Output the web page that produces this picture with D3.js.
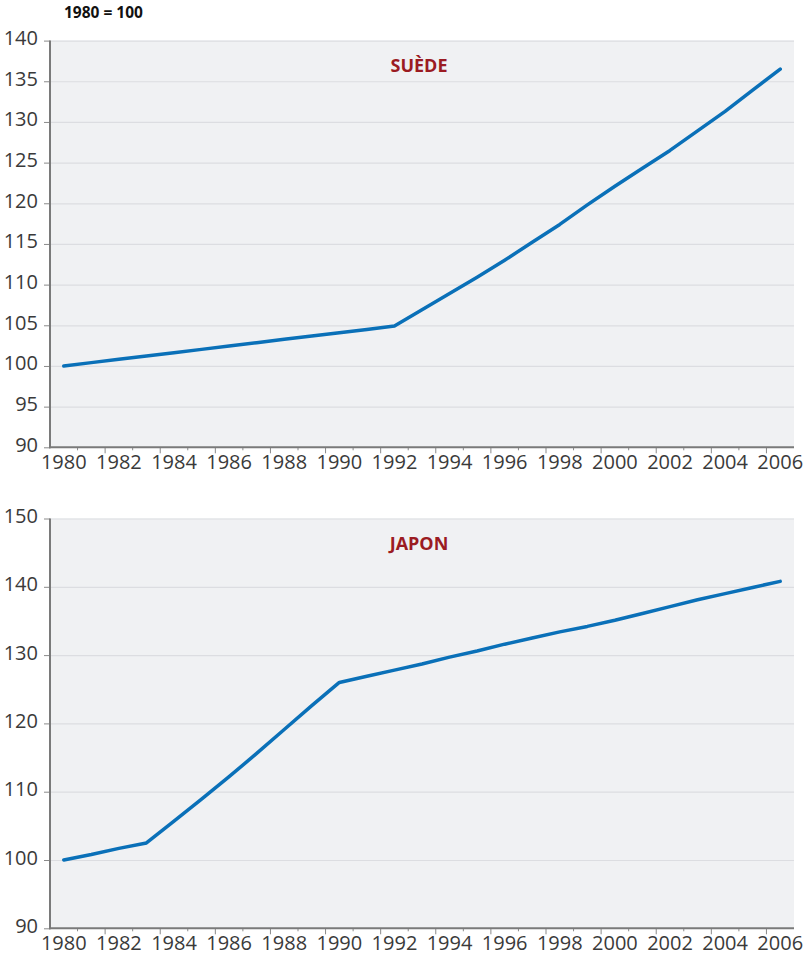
<!DOCTYPE html>
<html>
<head>
<meta charset="utf-8">
<script src="https://cdn.jsdelivr.net/npm/d3@7"></script>
<style>
  body { margin: 0; background: #fff; }
  .tick text { font-family: "Open Sans", sans-serif; font-size: 20px; fill: #3a3a3a; }
  .title { font-family: "Open Sans", sans-serif; font-weight: 700; font-size: 18px; fill: #9b1b22; }
  .unit { font-family: "Open Sans", sans-serif; font-weight: 700; font-size: 15.5px; fill: #111; }
</style>
</head>
<body>
<svg id="chart" width="803" height="958"></svg>
<script>
// données (indice 1980 = 100)
const years = d3.range(1980, 2007);
const yearLabels = years.filter(d => d % 2 === 0);

const sweden = [100, 100.41, 100.82, 101.23, 101.63, 102.04, 102.45, 102.86, 103.27, 103.68, 104.08, 104.49, 104.9,
  106.9, 108.9, 110.9, 113.0, 115.2, 117.4, 119.8, 122.1, 124.3, 126.5, 128.9, 131.3, 133.9, 136.5];
const japan = [100, 100.8, 101.7, 102.5, 105.7, 108.9, 112.2, 115.6, 119.1, 122.6, 126.0,
  126.9, 127.8, 128.7, 129.7, 130.6, 131.6, 132.5, 133.4, 134.2, 135.1, 136.1, 137.1, 138.1, 139.0, 139.9, 140.8];

const swedenTicks = [90, 95, 100, 105, 110, 115, 120, 125, 130, 135, 140];
const japanTicks = [90, 100, 110, 120, 130, 140, 150];

const svg = d3.select('#chart');

const LEFT = 50;
const RIGHT = 794;

svg.append('text')
  .attr('class', 'unit')
  .attr('x', 64)
  .attr('y', 18)
  .text('1980 = 100');

function drawPanel(top, bottom, values, ticks, title) {
  const g = svg.append('g');

  const x = d3.scaleBand().domain(years).range([LEFT, RIGHT]).padding(0);
  const y = d3.scaleLinear().domain([ticks[0], ticks[ticks.length - 1]]).range([bottom, top]);

  // fond
  g.append('rect')
    .attr('x', LEFT)
    .attr('y', top)
    .attr('width', RIGHT - LEFT)
    .attr('height', bottom - top)
    .attr('fill', '#f0f1f3');

  // grille
  g.append('g')
    .attr('transform', `translate(${LEFT},0)`)
    .call(d3.axisLeft(y).tickValues(ticks.slice(1)).tickSize(-(RIGHT - LEFT)).tickFormat(''))
    .call(a => a.select('.domain').remove())
    .call(a => a.selectAll('line').attr('stroke', '#dcdde1').attr('stroke-width', 1.2));

  // axe y
  g.append('g')
    .attr('transform', `translate(${LEFT},0)`)
    .call(d3.axisLeft(y).tickValues(ticks).tickSize(6).tickPadding(6))
    .call(a => a.select('.domain').remove())
    .call(a => a.selectAll('line').attr('stroke', '#8a8a8a'))
    .call(a => a.selectAll('text').attr('dy', '0.2em'));

  // graduations x : entre les catégories
  g.selectAll('.xt')
    .data(years.slice(1))
    .join('line')
    .attr('x1', d => x(d))
    .attr('x2', d => x(d))
    .attr('y1', bottom)
    .attr('y2', d => bottom + (d % 2 === 0 ? 6 : 3))
    .attr('stroke', '#8a8a8a')
    .attr('stroke-width', 1);

  // libellés x
  g.append('g')
    .attr('transform', `translate(0,${bottom})`)
    .call(d3.axisBottom(x).tickValues(yearLabels).tickSize(0).tickPadding(8))
    .call(a => a.select('.domain').remove());

  // axes
  g.append('line')
    .attr('x1', LEFT).attr('x2', LEFT)
    .attr('y1', top).attr('y2', bottom + 1)
    .attr('stroke', '#7a7a7a').attr('stroke-width', 2);
  g.append('line')
    .attr('x1', LEFT - 1).attr('x2', RIGHT)
    .attr('y1', bottom).attr('y2', bottom)
    .attr('stroke', '#7a7a7a').attr('stroke-width', 2);

  // courbe
  const line = d3.line()
    .x((d, i) => x(years[i]) + x.bandwidth() / 2)
    .y(d => y(d));

  g.append('path')
    .datum(values)
    .attr('d', line)
    .attr('fill', 'none')
    .attr('stroke', '#0a70b8')
    .attr('stroke-width', 3.5)
    .attr('stroke-linecap', 'round')
    .attr('stroke-linejoin', 'round');

  g.append('text')
    .attr('class', 'title')
    .attr('x', 419)
    .attr('y', top + 31)
    .attr('text-anchor', 'middle')
    .text(title);
}

drawPanel(40.6, 447.3, sweden, swedenTicks, 'SUÈDE');
drawPanel(518.5, 928.3, japan, japanTicks, 'JAPON');
</script>
</body>
</html>
